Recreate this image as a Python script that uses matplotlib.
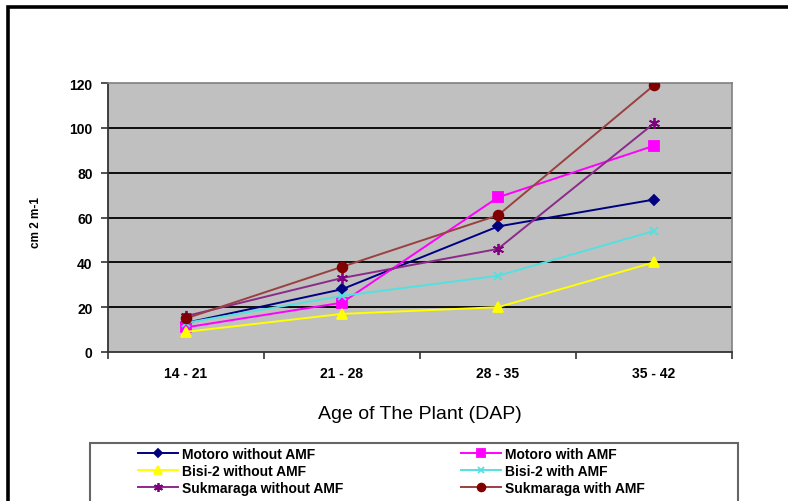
import matplotlib
matplotlib.use("Agg")
import matplotlib.pyplot as plt
from matplotlib.patches import Rectangle
import numpy as np

plt.rcParams['font.family'] = ['Liberation Sans', 'DejaVu Sans']

categories = ["14 - 21", "21 - 28", "28 - 35", "35 - 42"]
motoro_without = [13, 28, 56, 68]
motoro_with = [11, 22, 69, 92]
bisi_without = [9, 17, 20, 40]
bisi_with = [13, 25, 34, 54]
sukmaraga_without = [16, 33, 46, 102]
sukmaraga_with = [15, 38, 61, 119]
y_ticks = [0, 20, 40, 60, 80, 100, 120]

W, H = 788, 502
fig = plt.figure(figsize=(W / 100, H / 100), dpi=100)
fig.patch.set_facecolor("white")

# outer frame
fig.patches.append(Rectangle((8 / W, -0.1), 1.2, (H - 8) / H + 0.1, transform=fig.transFigure,
                             fill=False, edgecolor="black", lw=2.6, zorder=0))

ax = fig.add_axes([108 / W, (H - 353) / H, (732 - 108) / W, (353 - 84) / H])
ax.set_facecolor("#C0C0C0")

x = np.arange(len(categories))
series = [
    ("Motoro without AMF", motoro_without, "#000080", "#000080", "D", 5),
    ("Motoro with AMF", motoro_with, "#FF00FF", "#FF00FF", "s", 7),
    ("Bisi-2 without AMF", bisi_without, "#FFFF00", "#FFFF00", "^", 7),
    ("Bisi-2 with AMF", bisi_with, "#55E0E0", "#55E0E0", "x", 6),
    ("Sukmaraga without AMF", sukmaraga_without, "#8B2A8B", "#800080", (6, 2, 0), 8),
    ("Sukmaraga with AMF", sukmaraga_with, "#9A4040", "#800000", "o", 7),
]
handles = []
for name, vals, lc, mc, mk, ms in series:
    h, = ax.plot(x, vals, color=lc, lw=1.4, marker=mk, markersize=ms,
                 markerfacecolor=mc, markeredgecolor=mc, markeredgewidth=1.3,
                 label=name, zorder=3)
    handles.append(h)

ax.set_xlim(-0.5, len(categories) - 0.5)
ax.set_ylim(0, 120)
ax.set_yticks(y_ticks)
ax.set_yticklabels([str(v) for v in y_ticks], fontsize=10, fontweight="bold")
for v in y_ticks[1:-1]:
    ax.axhline(v, color="black", lw=1.3, zorder=1)

ax.set_xticks(x)
ax.set_xticklabels(categories, fontsize=10, fontweight="bold")
ax.set_xticks(np.arange(-0.5, len(categories)), minor=True)
ax.tick_params(axis="x", which="major", length=0, pad=10)
ax.tick_params(axis="x", which="minor", length=5, width=1.2, color="#333333", direction="out")
ax.tick_params(axis="y", length=5, width=1.2, color="#333333", pad=6)

for s in ["top", "right"]:
    ax.spines[s].set_color("#808080")
    ax.spines[s].set_linewidth(1.2)
for s in ["left", "bottom"]:
    ax.spines[s].set_color("#333333")
    ax.spines[s].set_linewidth(1.3)

ax.set_xlabel("Age of The Plant (DAP)", fontsize=14, labelpad=18)
fig.text(36 / W, 1 - 222 / H, "cm 2 m-1", rotation=90, fontsize=8.5, fontweight="bold",
         ha="center", va="center")

# legend box
fig.patches.append(Rectangle((90 / W, -0.1), (738 - 90) / W, (H - 444) / H + 0.1,
                             transform=fig.transFigure, fill=False, edgecolor="#666666", lw=1.5))

col1 = [handles[0], handles[2], handles[4]]
col2 = [handles[1], handles[3], handles[5]]
for col, xpos in [(col1, 135), (col2, 458)]:
    leg = fig.legend(col, [h.get_label() for h in col], loc="upper left",
                     bbox_to_anchor=(xpos / W, 1 - 445 / H), frameon=False,
                     prop={"size": 10, "weight": "bold"}, handlelength=2.9,
                     handletextpad=0.3, labelspacing=0.22, borderpad=0.2,
                     borderaxespad=0, markerscale=0.8)

fig.savefig("out.png", dpi=100)
